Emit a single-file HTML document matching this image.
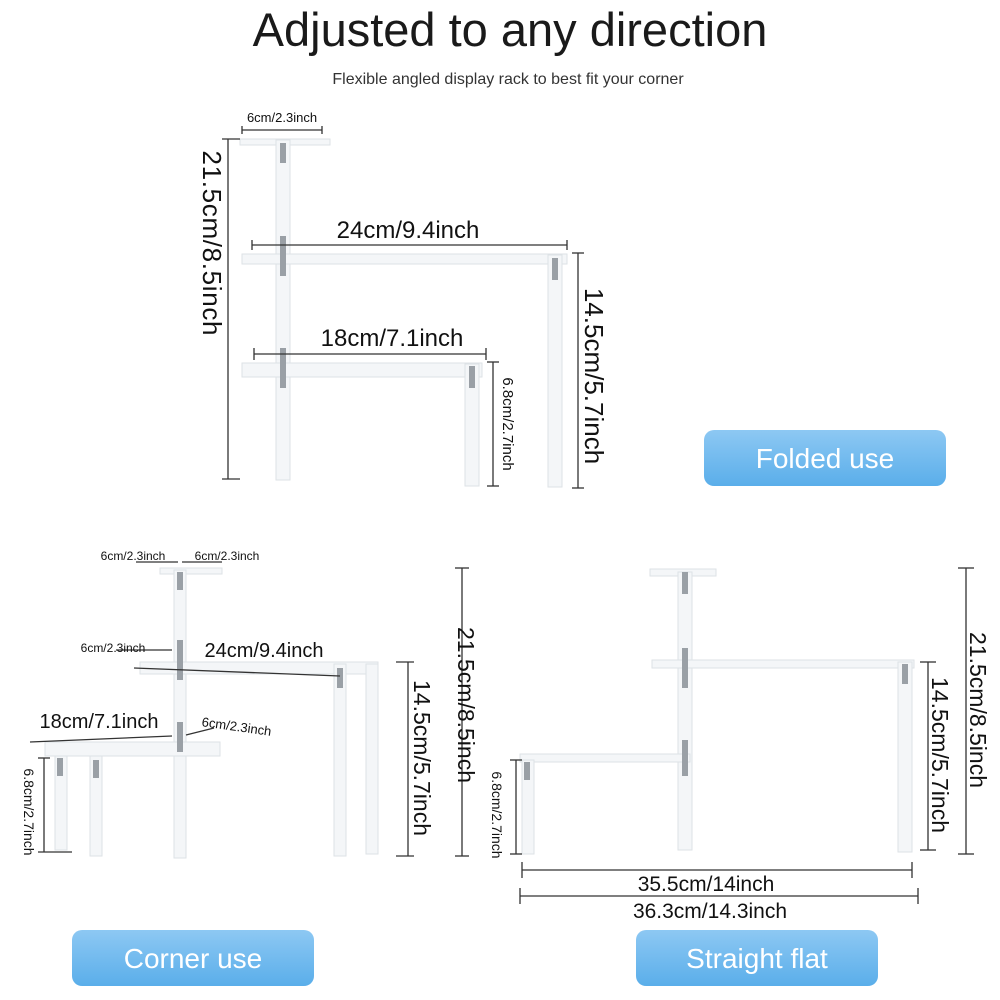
<!DOCTYPE html>
<html><head><meta charset="utf-8"><style>
html,body{margin:0;padding:0;background:#fff;}
svg{display:block;font-family:"Liberation Sans",sans-serif;}
</style></head><body>
<svg width="1000" height="1000" viewBox="0 0 1000 1000" xmlns="http://www.w3.org/2000/svg">
<defs>
<linearGradient id="bl" x1="0" y1="0" x2="0" y2="1"><stop offset="0" stop-color="#8dc8f3"/><stop offset="1" stop-color="#5aaeea"/></linearGradient>
</defs>
<text x="510" y="46" font-size="47" text-anchor="middle" fill="#1a1a1a">Adjusted to any direction</text>
<text x="508" y="84" font-size="16" text-anchor="middle" fill="#333">Flexible angled display rack to best fit your corner</text>

<g fill="#f4f6f8" stroke="#dde2e6" stroke-width="1">
<rect x="240" y="139" width="90" height="6"/>
<rect x="276" y="140" width="14" height="340"/>
<rect x="242" y="254" width="325" height="10"/>
<rect x="548" y="255" width="14" height="232"/>
<rect x="242" y="363" width="240" height="14"/>
<rect x="465" y="364" width="14" height="122"/>
<rect x="160" y="568" width="62" height="6"/>
<rect x="174" y="570" width="12" height="288"/>
<rect x="140" y="662" width="238" height="12"/>
<rect x="334" y="664" width="12" height="192"/>
<rect x="366" y="664" width="12" height="190"/>
<rect x="45" y="742" width="175" height="14"/>
<rect x="55" y="756" width="12" height="94"/>
<rect x="90" y="756" width="12" height="100"/>
<rect x="650" y="569" width="66" height="7"/>
<rect x="678" y="572" width="14" height="278"/>
<rect x="652" y="660" width="262" height="8"/>
<rect x="898" y="662" width="14" height="190"/>
<rect x="520" y="754" width="170" height="8"/>
<rect x="522" y="760" width="12" height="94"/>
</g>
<g fill="#9aa0a6">
<rect x="280" y="143" width="6" height="20"/><rect x="280" y="236" width="6" height="40"/><rect x="280" y="348" width="6" height="40"/>
<rect x="552" y="258" width="6" height="22"/><rect x="469" y="366" width="6" height="22"/>
<rect x="177" y="572" width="6" height="18"/><rect x="177" y="640" width="6" height="40"/><rect x="177" y="722" width="6" height="30"/>
<rect x="337" y="668" width="6" height="20"/><rect x="57" y="758" width="6" height="18"/><rect x="93" y="760" width="6" height="18"/>
<rect x="682" y="572" width="6" height="22"/><rect x="682" y="648" width="6" height="40"/><rect x="682" y="740" width="6" height="36"/>
<rect x="902" y="664" width="6" height="20"/><rect x="524" y="762" width="6" height="18"/>
</g>

<g stroke="#333" stroke-width="1.3" fill="none">
<line x1="242" y1="130" x2="322" y2="130"/><line x1="242" y1="126" x2="242" y2="134"/><line x1="322" y1="126" x2="322" y2="134"/>
<line x1="228" y1="139" x2="228" y2="479"/><line x1="222" y1="139" x2="240" y2="139"/><line x1="222" y1="479" x2="240" y2="479"/>
<line x1="252" y1="245" x2="567" y2="245"/><line x1="252" y1="240" x2="252" y2="250"/><line x1="567" y1="240" x2="567" y2="250"/>
<line x1="578" y1="253" x2="578" y2="488"/><line x1="572" y1="253" x2="584" y2="253"/><line x1="572" y1="488" x2="584" y2="488"/>
<line x1="254" y1="354" x2="486" y2="354"/><line x1="254" y1="348" x2="254" y2="360"/><line x1="486" y1="348" x2="486" y2="360"/>
<line x1="493" y1="362" x2="493" y2="486"/><line x1="487" y1="362" x2="499" y2="362"/><line x1="487" y1="486" x2="499" y2="486"/>
<line x1="136" y1="562" x2="178" y2="562"/><line x1="182" y1="562" x2="222" y2="562"/>
<line x1="116" y1="650" x2="172" y2="650"/>
<line x1="134" y1="668" x2="340" y2="676"/>
<line x1="30" y1="742" x2="172" y2="736"/>
<line x1="186" y1="735" x2="214" y2="728"/>
<line x1="462" y1="568" x2="462" y2="856"/><line x1="455" y1="568" x2="469" y2="568"/><line x1="455" y1="856" x2="469" y2="856"/>
<line x1="408" y1="662" x2="408" y2="856"/><line x1="396" y1="662" x2="414" y2="662"/><line x1="396" y1="856" x2="414" y2="856"/>
<line x1="44" y1="758" x2="44" y2="852"/><line x1="38" y1="758" x2="50" y2="758"/><line x1="38" y1="852" x2="72" y2="852"/>
<line x1="966" y1="568" x2="966" y2="854"/><line x1="958" y1="568" x2="974" y2="568"/><line x1="958" y1="854" x2="974" y2="854"/>
<line x1="928" y1="662" x2="928" y2="850"/><line x1="920" y1="662" x2="936" y2="662"/><line x1="920" y1="850" x2="936" y2="850"/>
<line x1="516" y1="760" x2="516" y2="854"/><line x1="510" y1="760" x2="522" y2="760"/><line x1="510" y1="854" x2="522" y2="854"/>
<line x1="522" y1="870" x2="912" y2="870"/><line x1="522" y1="862" x2="522" y2="878"/><line x1="912" y1="862" x2="912" y2="878"/>
<line x1="520" y1="896" x2="918" y2="896"/><line x1="520" y1="888" x2="520" y2="904"/><line x1="918" y1="888" x2="918" y2="904"/>
</g>

<g fill="#111">
<text x="282" y="122" font-size="13" text-anchor="middle">6cm/2.3inch</text>
<text x="408" y="238" font-size="24" text-anchor="middle">24cm/9.4inch</text>
<text x="392" y="346" font-size="24" text-anchor="middle">18cm/7.1inch</text>
<text transform="translate(203,243) rotate(90)" font-size="26" text-anchor="middle" textLength="185" dy="0">21.5cm/8.5inch</text>
<text transform="translate(585,376) rotate(90)" font-size="26" text-anchor="middle">14.5cm/5.7inch</text>
<text transform="translate(503,424) rotate(90)" font-size="15" text-anchor="middle">6.8cm/2.7inch</text>

<text x="133" y="560" font-size="12" text-anchor="middle">6cm/2.3inch</text>
<text x="227" y="560" font-size="12" text-anchor="middle">6cm/2.3inch</text>
<text x="113" y="652" font-size="12" text-anchor="middle">6cm/2.3inch</text>
<text x="264" y="657" font-size="20" text-anchor="middle">24cm/9.4inch</text>
<text x="99" y="728" font-size="20" text-anchor="middle">18cm/7.1inch</text>
<text transform="translate(236,731) rotate(8)" font-size="13" text-anchor="middle">6cm/2.3inch</text>
<text transform="translate(458,705) rotate(90)" font-size="23" text-anchor="middle">21.5cm/8.5inch</text>
<text transform="translate(414,758) rotate(90)" font-size="23" text-anchor="middle">14.5cm/5.7inch</text>
<text transform="translate(24,812) rotate(90)" font-size="14" text-anchor="middle">6.8cm/2.7inch</text>

<text transform="translate(970,710) rotate(90)" font-size="23" text-anchor="middle">21.5cm/8.5inch</text>
<text transform="translate(932,755) rotate(90)" font-size="23" text-anchor="middle">14.5cm/5.7inch</text>
<text transform="translate(492,815) rotate(90)" font-size="14" text-anchor="middle">6.8cm/2.7inch</text>
<text x="706" y="891" font-size="21" text-anchor="middle">35.5cm/14inch</text>
<text x="710" y="918" font-size="21" text-anchor="middle">36.3cm/14.3inch</text>
</g>

<rect x="704" y="430" width="242" height="56" rx="10" fill="url(#bl)"/>
<text x="825" y="468" font-size="28" text-anchor="middle" fill="#fff">Folded use</text>
<rect x="72" y="930" width="242" height="56" rx="10" fill="url(#bl)"/>
<text x="193" y="968" font-size="28" text-anchor="middle" fill="#fff">Corner use</text>
<rect x="636" y="930" width="242" height="56" rx="10" fill="url(#bl)"/>
<text x="757" y="968" font-size="28" text-anchor="middle" fill="#fff">Straight flat</text>
</svg>
</body></html>
